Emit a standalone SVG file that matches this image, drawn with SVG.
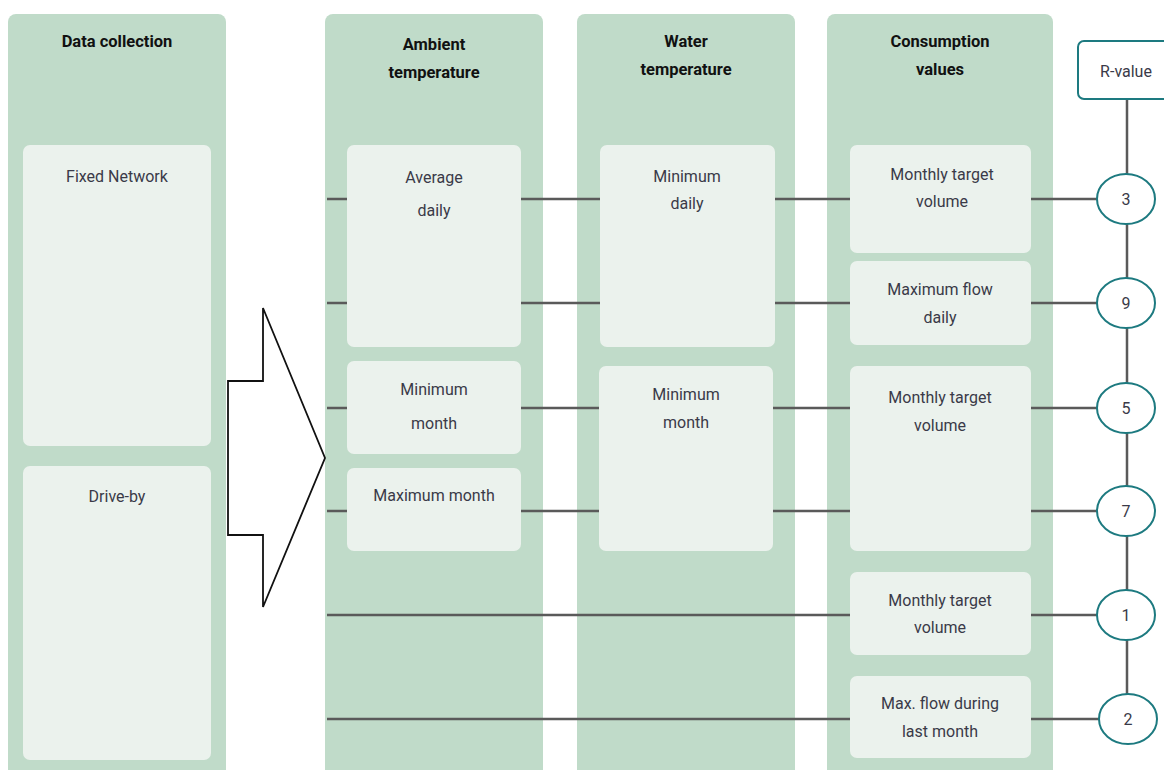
<svg xmlns="http://www.w3.org/2000/svg" width="1164" height="770" viewBox="0 0 1164 770">
<style>
.col{fill:#c0dbc9}
.box{fill:#ebf2ed}
.hd{font-family:Roboto,"Liberation Sans",sans-serif;font-weight:bold;font-size:16.5px;fill:#111;text-anchor:middle}
.lb{font-family:Roboto,"Liberation Sans",sans-serif;font-size:16px;fill:#3a3a48;text-anchor:middle}
.ln{stroke:#5a5a5a;stroke-width:2.5;fill:none}
.rc{fill:#fff;stroke:#1d7a80;stroke-width:2}
</style>
<rect width="1164" height="770" fill="#fff"/>
<g id="columns">
<rect class="col" x="8" y="14" width="218" height="770" rx="8"/>
<rect class="col" x="325" y="14" width="218" height="770" rx="8"/>
<rect class="col" x="577" y="14" width="218" height="770" rx="8"/>
<rect class="col" x="827" y="14" width="226" height="770" rx="8"/>
<text class="hd" x="117" y="47">Data collection</text>
<text class="hd" x="434" y="50">Ambient</text>
<text class="hd" x="434" y="78">temperature</text>
<text class="hd" x="686" y="47">Water</text>
<text class="hd" x="686" y="75">temperature</text>
<text class="hd" x="940" y="47">Consumption</text>
<text class="hd" x="940" y="75">values</text>
</g>
<g id="connectors">
<line class="ln" x1="327" y1="199" x2="1098" y2="199"/>
<line class="ln" x1="327" y1="303" x2="1098" y2="303"/>
<line class="ln" x1="327" y1="408" x2="1098" y2="408"/>
<line class="ln" x1="327" y1="511" x2="1098" y2="511"/>
<line class="ln" x1="327" y1="615" x2="1098" y2="615"/>
<line class="ln" x1="327" y1="719" x2="1099" y2="719"/>
<line class="ln" x1="1127" y1="99" x2="1127" y2="695"/>
</g>
<g id="arrow">
<polygon points="228,381 263,381 263,308 325,458 263,607 263,535 228,535" fill="#fff" stroke="#111" stroke-width="1.8" stroke-linejoin="miter"/>
</g>
<g id="fixed-network"><rect class="box" x="23" y="145" width="188" height="301" rx="7"/><text class="lb" x="117" y="182">Fixed Network</text></g>
<g id="drive-by"><rect class="box" x="23" y="466" width="188" height="294" rx="7"/><text class="lb" x="117" y="502">Drive-by</text></g>
<g id="amb-average-daily"><rect class="box" x="347" y="145" width="174" height="202" rx="7"/><text class="lb" x="434" y="183">Average</text><text class="lb" x="434" y="216">daily</text></g>
<g id="amb-minimum-month"><rect class="box" x="347" y="361" width="174" height="93" rx="7"/><text class="lb" x="434" y="395">Minimum</text><text class="lb" x="434" y="429">month</text></g>
<g id="amb-maximum-month"><rect class="box" x="347" y="468" width="174" height="83" rx="7"/><text class="lb" x="434" y="501">Maximum month</text></g>
<g id="wat-minimum-daily"><rect class="box" x="600" y="145" width="175" height="202" rx="7"/><text class="lb" x="687" y="182">Minimum</text><text class="lb" x="687" y="209">daily</text></g>
<g id="wat-minimum-month"><rect class="box" x="599" y="366" width="174" height="185" rx="7"/><text class="lb" x="686" y="400">Minimum</text><text class="lb" x="686" y="428">month</text></g>
<g id="con-monthly-target-1"><rect class="box" x="850" y="145" width="181" height="108" rx="7"/><text class="lb" x="942" y="180">Monthly target</text><text class="lb" x="942" y="207">volume</text></g>
<g id="con-maximum-flow-daily"><rect class="box" x="850" y="261" width="181" height="84" rx="7"/><text class="lb" x="940" y="295">Maximum flow</text><text class="lb" x="940" y="323">daily</text></g>
<g id="con-monthly-target-2"><rect class="box" x="850" y="366" width="181" height="185" rx="7"/><text class="lb" x="940" y="403">Monthly target</text><text class="lb" x="940" y="431">volume</text></g>
<g id="con-monthly-target-3"><rect class="box" x="850" y="572" width="181" height="83" rx="7"/><text class="lb" x="940" y="606">Monthly target</text><text class="lb" x="940" y="633">volume</text></g>
<g id="con-max-flow-last-month"><rect class="box" x="850" y="676" width="181" height="82" rx="7"/><text class="lb" x="940" y="709">Max. flow during</text><text class="lb" x="940" y="737">last month</text></g>
<g id="r-value"><rect class="rc" x="1078" y="41" width="100" height="58" rx="6"/><text class="lb" x="1126" y="77">R-value</text></g>
<g id="r3"><ellipse class="rc" cx="1126" cy="199" rx="29" ry="25"/><text class="lb" x="1126" y="205">3</text></g>
<g id="r9"><ellipse class="rc" cx="1126" cy="303" rx="29" ry="25"/><text class="lb" x="1126" y="309">9</text></g>
<g id="r5"><ellipse class="rc" cx="1126" cy="408" rx="29" ry="25"/><text class="lb" x="1126" y="414">5</text></g>
<g id="r7"><ellipse class="rc" cx="1126" cy="511" rx="29" ry="25"/><text class="lb" x="1126" y="517">7</text></g>
<g id="r1"><ellipse class="rc" cx="1126" cy="615" rx="29" ry="25"/><text class="lb" x="1126" y="621">1</text></g>
<g id="r2"><ellipse class="rc" cx="1128" cy="719" rx="29" ry="25"/><text class="lb" x="1128" y="725">2</text></g>
</svg>
